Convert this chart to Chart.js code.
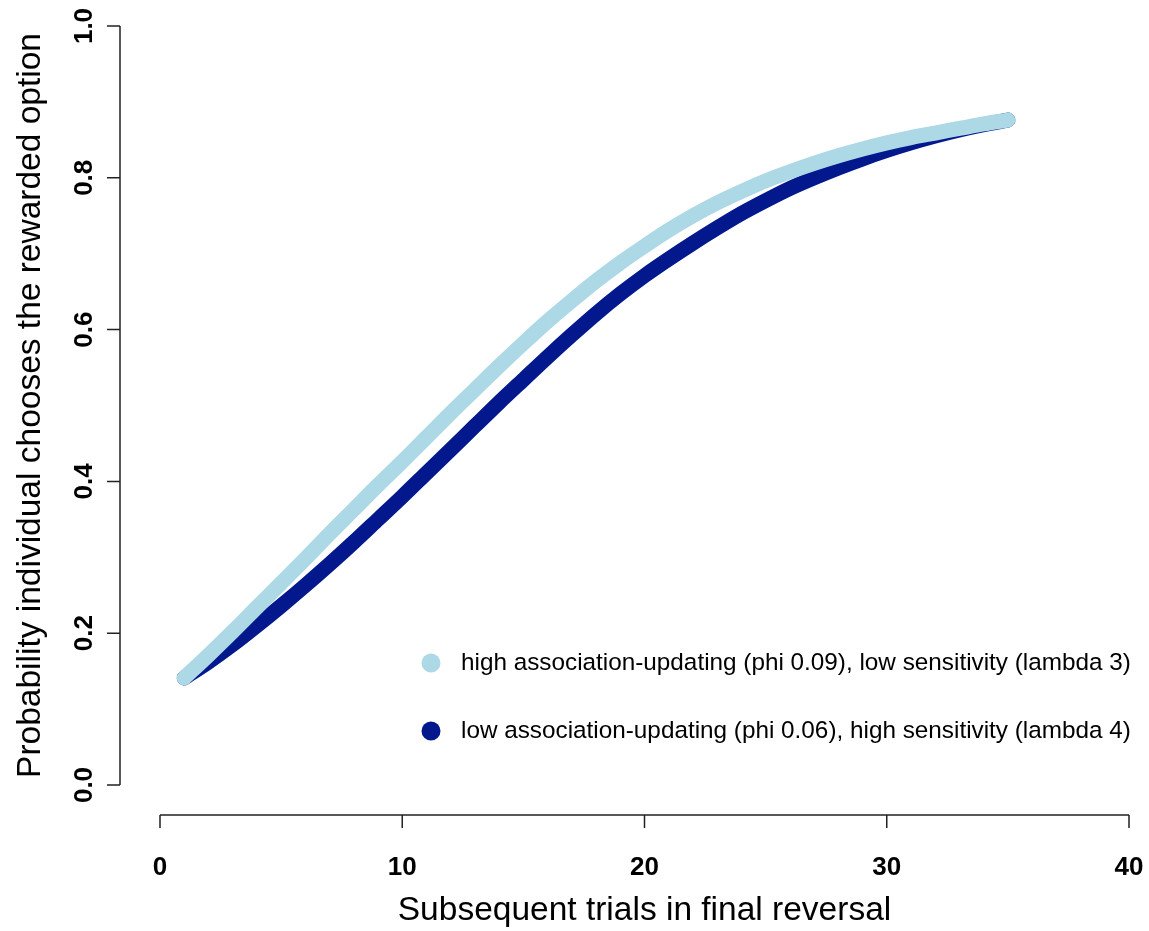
<!DOCTYPE html>
<html>
<head>
<meta charset="utf-8">
<script src="https://cdn.jsdelivr.net/npm/chart.js@4.4.1/dist/chart.umd.min.js"></script>
<style>
  body { margin: 0; background: #fff; }
  #wrap { width: 1149px; height: 931px; }
</style>
</head>
<body>
<div id="wrap"><canvas id="grafico" width="1149" height="931"></canvas></div>
<script>
// trials 1..35 in the final reversal
const trials = [1,2,3,4,5,6,7,8,9,10,11,12,13,14,15,16,17,18,19,20,21,22,23,24,25,26,27,28,29,30,31,32,33,34,35];

// high phi / low lambda (light blue)
const probAlto = [0.141,0.171,0.202,0.234,0.266,0.298,0.331,0.363,0.395,0.426,
  0.458,0.490,0.521,0.552,0.582,0.611,0.638,0.664,0.688,0.710,
  0.731,0.750,0.767,0.782,0.796,0.808,0.819,0.829,0.838,0.846,
  0.853,0.859,0.865,0.871,0.876];

// low phi / high lambda (dark blue)
const probBaixo = [0.141,0.162,0.185,0.210,0.236,0.263,0.291,0.320,0.350,0.380,
  0.411,0.442,0.473,0.504,0.534,0.564,0.593,0.621,0.647,0.671,
  0.693,0.714,0.734,0.753,0.770,0.786,0.800,0.813,0.825,0.836,
  0.846,0.855,0.863,0.870,0.876];

const legendas = [
  "high association-updating (phi 0.09), low sensitivity (lambda 3)",
  "low association-updating (phi 0.06), high sensitivity (lambda 4)"
];
const xTicks = [0, 10, 20, 30, 40];
const yTicks = [0, 0.2, 0.4, 0.6, 0.8, 1.0];
const tituloX = "Subsequent trials in final reversal";
const tituloY = "Probability individual chooses the rewarded option";

const corClara = "#add8e6";
const corEscura = "#03188c";
const fonte = "'Liberation Sans', Arial, Helvetica, sans-serif";

function pontos(valores) {
  return trials.map((t, i) => ({ x: t, y: valores[i] }));
}

// axes drawn R style, detached from the plot region
const eixosR = {
  id: "eixosR",
  afterDraw(chart) {
    const ctx = chart.ctx;
    const sx = chart.scales.x;
    const sy = chart.scales.y;
    const area = chart.chartArea;
    const eixoX = area.bottom + 30;
    const eixoY = area.left - 40;

    ctx.save();
    ctx.strokeStyle = "#222";
    ctx.lineWidth = 1.5;
    ctx.fillStyle = "#000";

    // x axis
    ctx.beginPath();
    ctx.moveTo(sx.getPixelForValue(xTicks[0]), eixoX);
    ctx.lineTo(sx.getPixelForValue(xTicks[xTicks.length - 1]), eixoX);
    xTicks.forEach((v) => {
      const px = sx.getPixelForValue(v);
      ctx.moveTo(px, eixoX);
      ctx.lineTo(px, eixoX + 13);
    });
    ctx.stroke();
    ctx.font = "bold 26px " + fonte;
    ctx.textAlign = "center";
    ctx.textBaseline = "middle";
    xTicks.forEach((v) => {
      ctx.fillText(String(v), sx.getPixelForValue(v), eixoX + 53);
    });

    // y axis
    ctx.beginPath();
    ctx.moveTo(eixoY, sy.getPixelForValue(yTicks[0]));
    ctx.lineTo(eixoY, sy.getPixelForValue(yTicks[yTicks.length - 1]));
    yTicks.forEach((v) => {
      const py = sy.getPixelForValue(v);
      ctx.moveTo(eixoY, py);
      ctx.lineTo(eixoY - 13, py);
    });
    ctx.stroke();
    yTicks.forEach((v) => {
      ctx.save();
      ctx.translate(eixoY - 35, sy.getPixelForValue(v));
      ctx.rotate(-Math.PI / 2);
      ctx.fillText(v.toFixed(1), 0, 0);
      ctx.restore();
    });

    // titles
    ctx.font = "33.5px " + fonte;
    ctx.fillText(tituloX, (area.left + area.right) / 2, 911);
    ctx.save();
    ctx.translate(31, (area.top + area.bottom) / 2);
    ctx.rotate(-Math.PI / 2);
    ctx.fillText(tituloY, 0, 0);
    ctx.restore();

    // legend inside the plot
    ctx.font = "24.3px " + fonte;
    ctx.textAlign = "left";
    chart.data.datasets.forEach((ds, i) => {
      const ly = 663 + i * 68;
      ctx.beginPath();
      ctx.fillStyle = ds.borderColor;
      ctx.arc(431, ly, 9.5, 0, Math.PI * 2);
      ctx.fill();
      ctx.fillStyle = "#000";
      ctx.fillText(ds.label, 461, ly);
    });
    ctx.restore();
  }
};

new Chart(document.getElementById("grafico"), {
  type: "line",
  data: {
    datasets: [
      {
        label: legendas[0],
        data: pontos(probAlto),
        borderColor: corClara,
        backgroundColor: corClara,
        borderWidth: 15,
        borderCapStyle: "round",
        borderJoinStyle: "round",
        pointRadius: 0,
        tension: 0.3,
        fill: false,
      },
      {
        label: legendas[1],
        data: pontos(probBaixo),
        borderColor: corEscura,
        backgroundColor: corEscura,
        borderWidth: 15,
        borderCapStyle: "round",
        borderJoinStyle: "round",
        pointRadius: 0,
        tension: 0.3,
        fill: false,
      },
    ],
  },
  options: {
    responsive: false,
    animation: false,
    layout: { padding: { left: 0, right: 20, top: 26, bottom: 0 } },
    plugins: {
      legend: { display: false },
      tooltip: { enabled: false },
    },
    scales: {
      x: {
        type: "linear",
        min: 0,
        max: 40,
        ticks: { display: false, stepSize: 10 },
        grid: { display: false },
        border: { display: false },
        afterFit: (s) => { s.height = 146; },
      },
      y: {
        min: 0,
        max: 1,
        ticks: { display: false, stepSize: 0.2 },
        grid: { display: false },
        border: { display: false },
        afterFit: (s) => { s.width = 160; },
      },
    },
  },
  plugins: [eixosR],
});
</script>
</body>
</html>
